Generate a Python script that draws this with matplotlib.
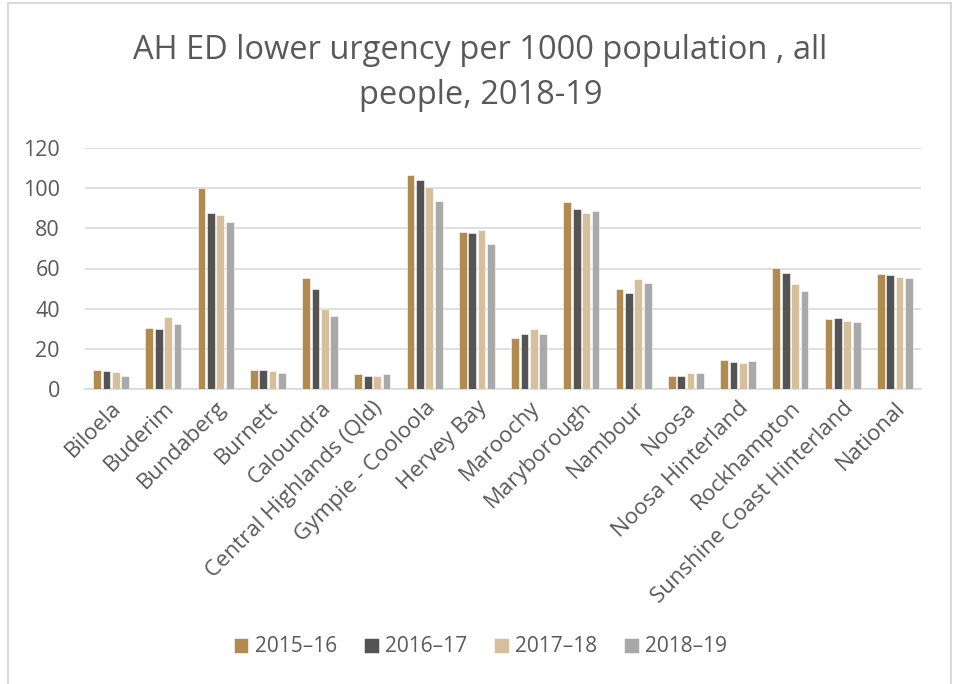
import numpy as np
import matplotlib
matplotlib.use('Agg')
import matplotlib.pyplot as plt
from matplotlib.patches import Rectangle

plt.rcParams['font.family'] = ['Open Sans', 'DejaVu Sans']

# 数据
regions = ['Biloela', 'Buderim', 'Bundaberg', 'Burnett', 'Caloundra',
           'Central Highlands (Qld)', 'Gympie - Cooloola', 'Hervey Bay',
           'Maroochy', 'Maryborough', 'Nambour', 'Noosa', 'Noosa Hinterland',
           'Rockhampton', 'Sunshine Coast Hinterland', 'National']
years = ['2015\u201316', '2016\u201317', '2017\u201318', '2018\u201319']
v_2015_16 = [9.6, 30.4, 100.3, 9.6, 55.4, 7.4, 106.4, 78.3, 25.5, 93.2, 49.8, 6.4, 14.5, 60.3, 34.9, 57.5]
v_2016_17 = [9.1, 29.9, 87.6, 9.6, 49.8, 6.6, 104.1, 77.7, 27.3, 89.8, 47.6, 6.6, 13.6, 58.0, 35.4, 56.7]
v_2017_18 = [8.4, 35.7, 86.4, 8.8, 39.7, 6.3, 100.8, 79.2, 30.1, 87.4, 55.0, 8.1, 12.9, 52.2, 33.7, 55.7]
v_2018_19 = [6.6, 32.2, 83.0, 7.9, 36.5, 7.3, 93.7, 72.4, 27.4, 88.4, 52.7, 7.9, 14.0, 48.8, 33.4, 55.5]

COLORS = ['#B08A4F', '#545454', '#D6BF9C', '#A9A9A9']
TEXT = '#595959'

fig = plt.figure(figsize=(9.55, 6.84), dpi=100)
ax = fig.add_axes([85 / 955, 1 - 389 / 684, 836 / 955, 241 / 684])

x = np.arange(len(regions))
series = [v_2015_16, v_2016_17, v_2017_18, v_2018_19]
step = 0.18
width = 0.15
for i, (vals, yr) in enumerate(zip(series, years)):
    ax.bar(x + (i - 1.5) * step, vals, width, color=COLORS[i], label=yr,
           edgecolor='white', linewidth=0.4, zorder=3)

ax.set_xlim(-0.5, len(regions) - 0.5)
ax.set_ylim(0, 120)
ax.set_yticks(range(0, 121, 20))
ax.yaxis.grid(True, color='#D9D9D9', linewidth=1.2, zorder=0)
for s in ['top', 'right', 'left']:
    ax.spines[s].set_visible(False)
ax.spines['bottom'].set_color('#D9D9D9')
ax.spines['bottom'].set_linewidth(1.2)
ax.tick_params(axis='both', length=0, colors=TEXT)
ax.tick_params(axis='y', pad=18, labelsize=15.5)
ax.tick_params(axis='x', pad=6, labelsize=16)
ax.set_xticks(x)
ax.set_xticklabels(regions, rotation=45, ha='right', rotation_mode='anchor')

fig.text(0.503, 0.893, 'AH ED lower urgency per 1000 population , all\npeople, 2018-19',
         ha='center', va='center', fontsize=23.5, color=TEXT, linespacing=1.5)

leg = fig.legend(loc='center', bbox_to_anchor=(0.503, 1 - 647 / 684), ncol=4,
                 frameon=False, fontsize=15, handlelength=0.7, handleheight=0.7,
                 handletextpad=0.3, columnspacing=1.3)
for t in leg.get_texts():
    t.set_color(TEXT)

# 外框
fig.patches.append(Rectangle((8 / 955, -0.01), 943 / 955, 1 - 3 / 684 + 0.01,
                             transform=fig.transFigure, fill=False,
                             edgecolor='#D9D9D9', linewidth=1.5))

fig.savefig('out.png', dpi=100)
